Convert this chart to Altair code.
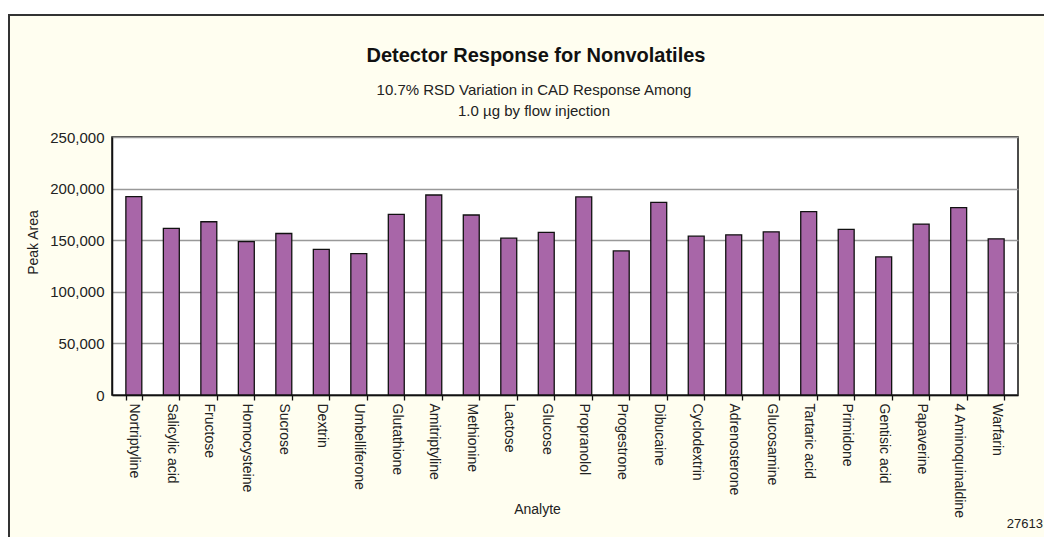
import altair as alt
import pandas as pd

analytes = ["Nortriptyline", "Salicylic acid", "Fructose", "Homocysteine", "Sucrose", "Dextrin",
            "Umbelliferone", "Glutathione", "Amitriptyline", "Methionine", "Lactose", "Glucose",
            "Propranolol", "Progestrone", "Dibucaine", "Cyclodextrin", "Adrenosterone", "Glucosamine",
            "Tartaric acid", "Primidone", "Gentisic acid", "Papaverine", "4 Aminoquinaldine", "Warfarin"]
peak_area = [192200, 161400, 167900, 148700, 156500, 141200,
             137000, 175000, 193800, 174400, 152000, 157500,
             191900, 139600, 186700, 153900, 155200, 158100,
             177600, 160400, 133800, 165600, 181500, 151300]
y_ticks = [0, 50000, 100000, 150000, 200000, 250000]

title_text = "Detector Response for Nonvolatiles"
subtitle_lines = ["10.7% RSD Variation in CAD Response Among", "1.0 µg by flow injection"]
stamp_text = "27613"

FONT = "Liberation Sans, Arial, Helvetica, sans-serif"
W, H = 906, 258

df = pd.DataFrame({"Analyte": analytes, "Peak Area": peak_area})

bars = alt.Chart(df).mark_bar(fill="#A866A8", stroke="#111111", strokeWidth=1.3).encode(
    x=alt.X("Analyte:N", sort=analytes,
            scale=alt.Scale(paddingInner=0.575, paddingOuter=0.37),
            axis=alt.Axis(title="Analyte", labelAngle=90, tickBand="extent", tickSize=5,
                          labelPadding=3, labelFontSize=14,
                          titleX=425, titleY=114, titleBaseline="middle",
                          titleAlign="center", titleFontSize=14)),
    y=alt.Y("Peak Area:Q", scale=alt.Scale(domain=[0, 250000], nice=False),
            axis=alt.Axis(values=y_ticks, format=",.0f", grid=True, ticks=False, labelPadding=8,
                          labelFontSize=15,
                          title="Peak Area", titleX=-79, titleY=105, titleAngle=-90,
                          titleAlign="center", titleBaseline="middle", titleFontSize=14))
)

one = pd.DataFrame({"k": [0]})
white_strip = alt.Chart(one).mark_rect(fill="white", clip=False).encode(
    x=alt.value(-104), x2=alt.value(W + 26), y=alt.value(-129), y2=alt.value(-123))
top_line = alt.Chart(one).mark_rule(color="#333333", strokeWidth=2, clip=False).encode(
    x=alt.value(-104), x2=alt.value(W + 26), y=alt.value(-122))
left_line = alt.Chart(one).mark_rule(color="#333333", strokeWidth=2, clip=False).encode(
    x=alt.value(-103), y=alt.value(-123), y2=alt.value(H + 142))
stamp = alt.Chart(one).mark_text(text=stamp_text, align="right", baseline="middle", fontSize=13,
                                 font=FONT, color="#222222", clip=False).encode(
    x=alt.value(W + 25), y=alt.value(387))
title = alt.Chart(one).mark_text(text=title_text, align="center", baseline="alphabetic",
                                 fontSize=20, fontWeight="bold", font=FONT, color="#111111",
                                 clip=False).encode(x=alt.value(424), y=alt.value(-75))
sub1 = alt.Chart(one).mark_text(text=subtitle_lines[0], align="center", baseline="alphabetic",
                                fontSize=15, font=FONT, color="#222222", clip=False).encode(
    x=alt.value(422), y=alt.value(-42))
sub2 = alt.Chart(one).mark_text(text=subtitle_lines[1], align="center", baseline="alphabetic",
                                fontSize=15, font=FONT, color="#222222", clip=False).encode(
    x=alt.value(422), y=alt.value(-21))

chart = alt.layer(bars, white_strip, top_line, left_line, stamp, title, sub1, sub2).properties(
    width=W, height=H,
    autosize=alt.AutoSizeParams(type="none"),
    padding={"left": 104, "top": 129, "right": 26, "bottom": 142},
).configure(background="#FFFEF0").configure_view(
    fill="white", stroke="#111111", strokeWidth=1.5
).configure_axis(
    domainColor="#111111", domainWidth=1.5, tickColor="#111111", tickWidth=1.3,
    gridColor="#999999", gridWidth=1.5,
    labelFont=FONT, labelColor="#222222",
    titleFont=FONT, titleFontWeight="normal", titleColor="#222222"
)

chart.save("out.html", embed_options={"renderer": "svg", "actions": False})
